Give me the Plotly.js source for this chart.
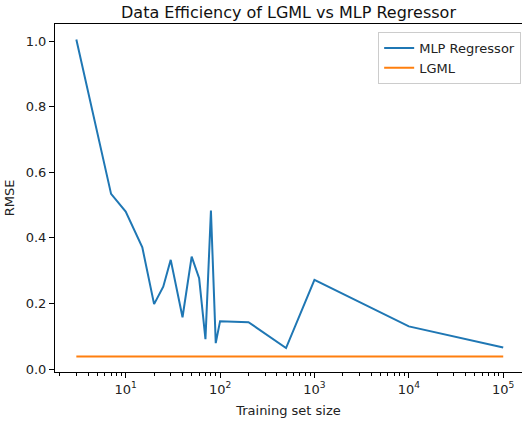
<!DOCTYPE html>
<html>
<head>
<meta charset="utf-8">
<script src="https://cdn.plot.ly/plotly-3.0.1.min.js"></script>
<style>html,body{margin:0;padding:0;background:#fff;overflow:hidden}</style>
</head>
<body>
<div id="chart" style="width:522px;height:421px"></div>
<script>
const trainSizes = [3, 7, 10, 15, 20, 25, 30, 40, 50, 60, 70, 80, 90, 100, 200, 500, 1000, 10000, 100000];
const mlpRmse = [1.005, 0.534, 0.48, 0.371, 0.198, 0.251, 0.333, 0.158, 0.343, 0.277, 0.091, 0.483, 0.079, 0.146, 0.143, 0.064, 0.272, 0.130, 0.066];
const lgmlSizes = [3, 100000];
const lgmlRmse = [0.038, 0.038];
const xTickVals = [10, 100, 1000, 10000, 100000];
const xTickText = ['10<sup>1</sup>', '10<sup>2</sup>', '10<sup>3</sup>', '10<sup>4</sup>', '10<sup>5</sup>'];
const yTickVals = [0, 0.2, 0.4, 0.6, 0.8, 1.0];
const yTickText = ['0.0', '0.2', '0.4', '0.6', '0.8', '1.0'];

const font = {family: 'DejaVu Sans, sans-serif', size: 13, color: '#222'};

const traces = [
  {x: trainSizes, y: mlpRmse, type: 'scatter', mode: 'lines', name: 'MLP Regressor',
   line: {color: '#1f77b4', width: 2}},
  {x: lgmlSizes, y: lgmlRmse, type: 'scatter', mode: 'lines', name: 'LGML',
   line: {color: '#ff7f0e', width: 2}}
];

const layout = {
  width: 522, height: 421,
  margin: {l: 55, r: 0, t: 24, b: 49},
  paper_bgcolor: '#fff', plot_bgcolor: '#fff',
  font: font,
  showlegend: true,
  title: {text: 'Data Efficiency of LGML vs MLP Regressor', font: {family: 'DejaVu Sans, sans-serif', size: 16, color: '#111'},
          x: 0.5, xref: 'paper', y: 0.985, yanchor: 'top'},
  xaxis: {
    type: 'log', range: [0.251, 5.199],
    tickvals: xTickVals, ticktext: xTickText,
    ticks: 'outside', ticklen: 5, tickwidth: 1, tickcolor: '#000',
    showline: true, linecolor: '#000', linewidth: 1, mirror: true,
    showgrid: false, zeroline: false,
    minor: {ticks: 'outside', ticklen: 3, tickwidth: 1, tickcolor: '#000', dtick: 'D1', showgrid: false},
    title: {text: 'Training set size', font: font, standoff: 10},
    tickfont: font
  },
  yaxis: {
    range: [-0.009, 1.052],
    tickvals: yTickVals, ticktext: yTickText,
    ticks: 'outside', ticklen: 5, tickwidth: 1, tickcolor: '#000',
    showline: true, linecolor: '#000', linewidth: 1,
    showgrid: false, zeroline: false,
    title: {text: 'RMSE', font: font, standoff: 8},
    tickfont: font
  },
  legend: {
    x: 0.692, y: 0.977, xanchor: 'left', yanchor: 'top',
    bgcolor: 'rgba(255,255,255,0.8)', bordercolor: '#ccc', borderwidth: 1,
    font: font, tracegroupgap: 0
  }
};

Plotly.newPlot('chart', traces, layout, {staticPlot: true, displayModeBar: false});
</script>
</body>
</html>
